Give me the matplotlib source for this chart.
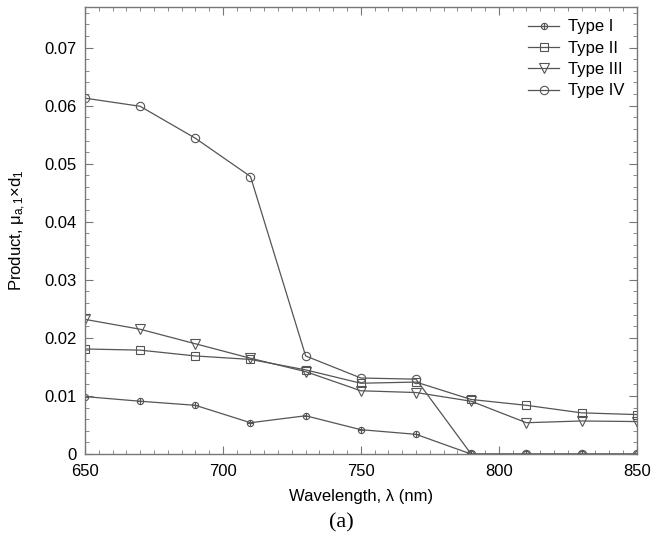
import matplotlib.pyplot as plt
from matplotlib.path import Path
from matplotlib.ticker import MultipleLocator

plt.rcParams["font.family"] = ["Liberation Sans", "DejaVu Sans"]
plt.rcParams["mathtext.fontset"] = "custom"
plt.rcParams["mathtext.rm"] = "Liberation Sans"
plt.rcParams["mathtext.it"] = "Liberation Sans"

wavelength = [650, 670, 690, 710, 730, 750, 770, 790, 810, 830, 850]
type_1 = [0.0099, 0.0091, 0.0084, 0.0054, 0.0066, 0.0042, 0.0034, 0, 0, 0, 0]
type_2 = [0.0181, 0.0179, 0.0169, 0.0163, 0.0145, 0.0122, 0.0124, 0.0094, 0.0084, 0.0071, 0.0068]
type_3 = [0.0232, 0.0215, 0.0190, 0.0165, 0.0142, 0.0109, 0.0106, 0.0091, 0.0054, 0.0057, 0.0056]
type_4 = [0.0613, 0.0599, 0.0544, 0.0478, 0.0169, 0.0131, 0.0129, 0, 0, 0, 0]

line_color = "#555555"
axis_color = "#777777"

# small circle with a cross inside, for Type I
cross = Path([(-1, 0), (1, 0), (0, -1), (0, 1)],
             [Path.MOVETO, Path.LINETO, Path.MOVETO, Path.LINETO])
circ_cross = Path.make_compound_path(Path.unit_circle(), cross)

fig = plt.figure(figsize=(6.66, 5.38), dpi=100)
ax = fig.add_axes([0.1276, 0.156, 0.8284, 0.831])

style = dict(color=line_color, linewidth=0.9, markerfacecolor="none",
             markeredgecolor=line_color, markeredgewidth=0.8)
ax.plot(wavelength, type_1, marker=circ_cross, markersize=4.5, label="Type I", **style)
ax.plot(wavelength, type_2, marker="s", markersize=5.5, label="Type II", **style)
ax.plot(wavelength, type_3, marker="v", markersize=6.5, label="Type III", **style)
ax.plot(wavelength, type_4, marker="o", markersize=6, label="Type IV", **style)

ax.set_xlim(650, 850)
ax.set_ylim(0, 0.077)
ax.xaxis.set_major_locator(MultipleLocator(50))
ax.xaxis.set_minor_locator(MultipleLocator(5))
ax.yaxis.set_minor_locator(MultipleLocator(0.002))
ax.set_yticks([0, 0.01, 0.02, 0.03, 0.04, 0.05, 0.06, 0.07])
ax.set_yticklabels(["0", "0.01", "0.02", "0.03", "0.04", "0.05", "0.06", "0.07"])

ax.tick_params(which="both", direction="in", top=True, right=True,
               color=axis_color, labelsize=12)
ax.tick_params(axis="x", pad=7)
ax.tick_params(axis="y", pad=6)
ax.tick_params(which="major", length=6)
ax.tick_params(which="minor", length=3)
for sp in ax.spines.values():
    sp.set_color(axis_color)
    sp.set_linewidth(1.0)

ax.set_xlabel("Wavelength, λ (nm)", fontsize=12, labelpad=7)
ax.set_ylabel(r"Product, $\mu_{\mathrm{a,1}}$×d$_{\mathrm{1}}$", fontsize=12, labelpad=12)

ax.legend(loc="upper right", frameon=False, fontsize=12, handlelength=1.9,
          labelspacing=0.38, borderaxespad=0.35, handletextpad=0.5)

fig.text(0.512, 0.028, "(a)", fontsize=16, family="Liberation Serif",
         ha="center", va="center")

fig.savefig("out.png", dpi=100)
